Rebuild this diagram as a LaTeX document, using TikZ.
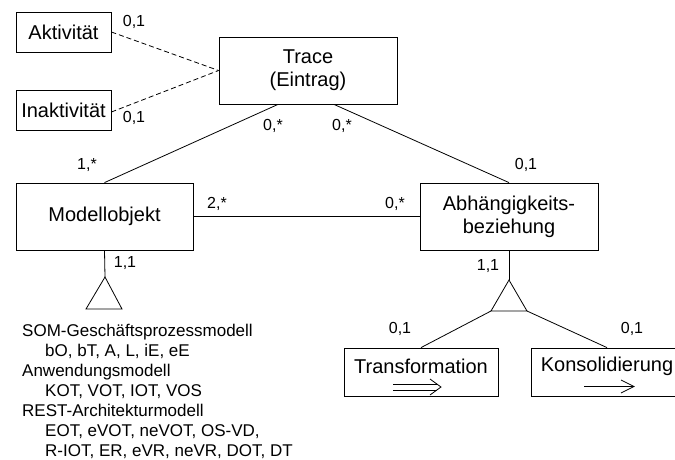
\documentclass[tikz,border=0pt]{standalone}
\usepackage{fontspec}
\setmainfont{Liberation Sans}
\usetikzlibrary{arrows.meta}
\begin{document}
\begin{tikzpicture}[x=1pt,y=-1pt,
  box/.style={draw, line width=0.8pt, inner sep=0pt, font=\fontsize{20}{23}\selectfont, align=center},
  txt/.style={inner sep=0pt, font=\fontsize{20}{23}\selectfont},
  lbl/.style={font=\fontsize{16}{18}\selectfont, inner sep=0pt},
  lst/.style={font=\fontsize{17}{20}\selectfont, inner sep=0pt, anchor=base west},
  conn/.style={line width=0.8pt},
  dconn/.style={line width=0.8pt, dash pattern=on 5pt off 3pt}]
\clip (0,0) rectangle (675,459);
% boxes
\node[box, minimum width=95pt, minimum height=40pt] (akt) at (63.5,32) {Aktivität};
\node[box, minimum width=95pt, minimum height=40pt] (inakt) at (63.5,110) {Inaktivität};
\node[box, minimum width=178pt, minimum height=67pt] (trace) at (308,70.5) {Trace\\(Eintrag)};
\node[box, minimum width=177pt, minimum height=67pt] (modell) at (104.5,216.5) {Modellobjekt};
\node[box, minimum width=178pt, minimum height=67pt] (abh) at (509,216.5) {Abhängigkeits-\\beziehung};
\node[box, minimum width=154pt, minimum height=48pt] (trans) at (421,372) {};
\node[box, minimum width=152pt, minimum height=48pt] (kons) at (607,372) {};
\node[txt] (transt) at (421,366) {Transformation};
\node[txt] (konst) at (607,366) {Konsolidierung};
% double arrow (Transformation)
\coordinate (da1) at (393,384);
\coordinate (da2) at (437,384);
\coordinate (da3) at (393,390);
\coordinate (da4) at (437,390);
\coordinate (dah1) at (430,379);
\coordinate (dah2) at (441,387);
\coordinate (dah3) at (430,395);
\draw[line width=0.8pt] (da1) -- (da2) (da3) -- (da4);
\draw[line width=0.8pt, line join=miter] (dah1) -- (dah2) -- (dah3);
% single arrow (Konsolidierung)
\coordinate (sa1) at (584,386.5);
\coordinate (sa2) at (634,386.5);
\coordinate (sah1) at (621,380);
\coordinate (sah2) at (621,393);
\draw[line width=0.8pt] (sa1) -- (sa2);
\draw[line width=0.8pt, line join=miter] (sah1) -- (sa2) -- (sah2);
% triangles
\coordinate (t1a) at (105,277);
\coordinate (t1l) at (86,309);
\coordinate (t1r) at (122,309);
\draw[conn] (t1a) -- (t1l) -- (t1r) -- cycle;
\coordinate (t2a) at (509,280);
\coordinate (t2l) at (491,311);
\coordinate (t2r) at (527,311);
\draw[conn] (t2a) -- (t2l) -- (t2r) -- cycle;
% connectors
\draw[dconn] (akt.east) -- (trace.west);
\draw[dconn] ([yshift=-2pt]inakt.east) -- (trace.west);
\draw[conn] ([xshift=-30pt]trace.south) -- (modell.north);
\draw[conn] ([xshift=26pt]trace.south) -- (abh.north);
\draw[conn] (modell.east) -- (abh.west);
\draw[conn] (modell.south) -- (t1a);
\draw[conn] (abh.south) -- (t2a);
\draw[conn] (t2l) -- (trans.north);
\draw[conn] (t2r) -- (kons.north);
% labels
\node[lbl] (l1) at (134,22) {0,1};
\node[lbl] (l2) at (134,118) {0,1};
\node[lbl] (l3) at (273,126) {0,*};
\node[lbl] (l4) at (342,126) {0,*};
\node[lbl] (l5) at (87,165) {1,*};
\node[lbl] (l6) at (526,165) {0,1};
\node[lbl] (l7) at (217,204) {2,*};
\node[lbl] (l8) at (395,204) {0,*};
\node[lbl] (l9) at (125,263) {1,1};
\node[lbl] (l10) at (488,266) {1,1};
\node[lbl] (l11) at (400,329) {0,1};
\node[lbl] (l12) at (632,329) {0,1};
% list
\node[lst] (s1) at (22,336) {SOM-Geschäftsprozessmodell};
\node[lst] (s2) at (45,356) {bO, bT, A, L, iE, eE};
\node[lst] (s3) at (22,376) {Anwendungsmodell};
\node[lst] (s4) at (45,396) {KOT, VOT, IOT, VOS};
\node[lst] (s5) at (22,416) {REST-Architekturmodell};
\node[lst] (s6) at (45,436) {EOT, eVOT, neVOT, OS-VD,};
\node[lst] (s7) at (45,456) {R-IOT, ER, eVR, neVR, DOT, DT};
\end{tikzpicture}
\end{document}
